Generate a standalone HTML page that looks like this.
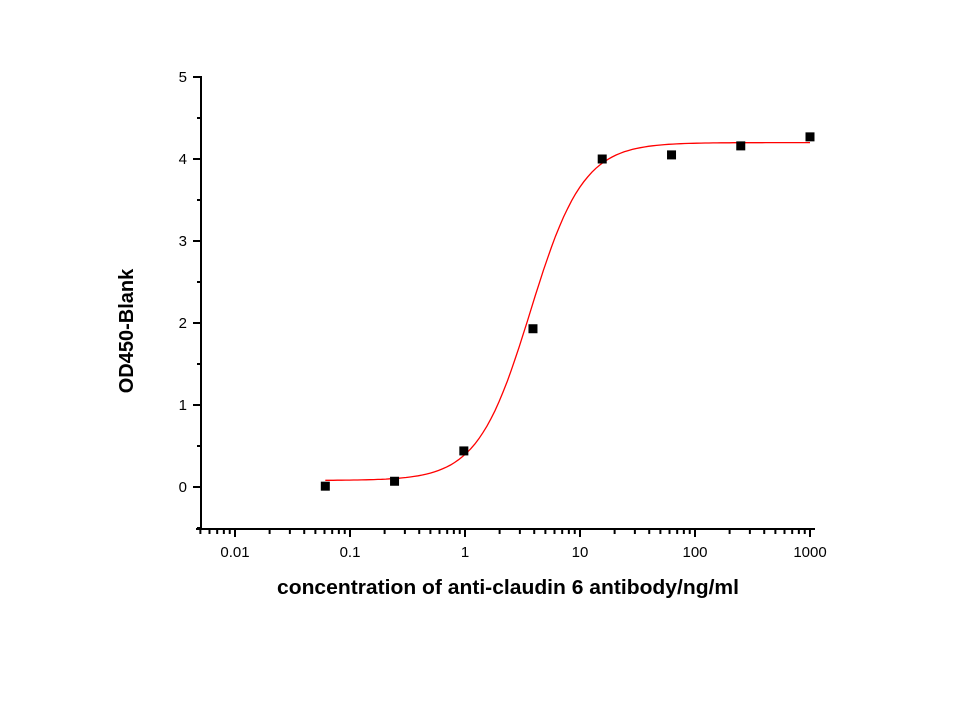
<!DOCTYPE html>
<html><head><meta charset="utf-8"><style>
body{margin:0;background:#fff;}
svg text{font-family:"Liberation Sans",Arial,sans-serif;}
</style></head><body>
<svg id="s" width="960" height="720" xmlns="http://www.w3.org/2000/svg">
<rect width="960" height="720" fill="#fff"/>
<g id="ax" stroke="#000" stroke-width="2" fill="none"></g>
<g id="lbl" font-size="15" fill="#000"></g>
<path id="curve" fill="none" stroke="#ff0000" stroke-width="1.3"/>
<g id="pts" fill="#000"></g>
<text x="508" y="594" font-size="20.5" font-weight="bold" text-anchor="middle" textLength="462" lengthAdjust="spacingAndGlyphs">concentration of anti-claudin 6 antibody/ng/ml</text>
<text transform="translate(133,331) rotate(-90)" font-size="20" font-weight="bold" text-anchor="middle">OD450-Blank</text>
</svg>
<script>
var NS="http://www.w3.org/2000/svg";
function X(v){return 465+115*Math.log10(v);}
function Y(v){return 487-82*v;}
var ax=document.getElementById('ax'),lbl=document.getElementById('lbl');
function line(x1,y1,x2,y2,w){var l=document.createElementNS(NS,'line');l.setAttribute('x1',x1);l.setAttribute('y1',y1);l.setAttribute('x2',x2);l.setAttribute('y2',y2);if(w)l.setAttribute('stroke-width',w);ax.appendChild(l);}
function text(x,y,s,a){var t=document.createElementNS(NS,'text');t.setAttribute('x',x);t.setAttribute('y',y);t.setAttribute('text-anchor',a);t.textContent=s;lbl.appendChild(t);}
line(201,76,201,530);
line(196,529,815,529);
for(var i=0;i<=5;i++){var y=Y(i);line(193,y,201,y);text(187,y+5,String(i),'end');}
for(var i=-0.5;i<5;i+=1){var y=Y(i);line(197,y,201,y);}
var labs=['0.01','0.1','1','10','100','1000'];
for(var d=-3;d<=3;d++){for(var m=1;m<10;m++){var v=m*Math.pow(10,d);var x=X(v);if(x<199||x>813)continue;
 if(m==1){line(x,529,x,537);}else line(x,529,x,534);}}
for(var k=0;k<6;k++){text(X(Math.pow(10,k-2)),557,labs[k],'middle');}
var b=0.08,t=4.2,ec=3.7,h=1.9,dstr='';
for(var i=0;i<=120;i++){var lx=Math.log10(0.061)+i*(3-Math.log10(0.061))/120;var v=Math.pow(10,lx);
 var yv=b+(t-b)/(1+Math.pow(ec/v,h));dstr+=(i?'L':'M')+X(v).toFixed(1)+' '+Y(yv).toFixed(1);}
document.getElementById('curve').setAttribute('d',dstr);
var data=[[0.061,0.01],[0.244,0.07],[0.977,0.44],[3.9,1.93],[15.6,4.0],[62.5,4.05],[250,4.16],[1000,4.27]];
var pts=document.getElementById('pts');
data.forEach(function(p){var r=document.createElementNS(NS,'rect');r.setAttribute('x',X(p[0])-4.5);r.setAttribute('y',Y(p[1])-4.5);r.setAttribute('width',9);r.setAttribute('height',9);pts.appendChild(r);});
</script>
</body></html>
